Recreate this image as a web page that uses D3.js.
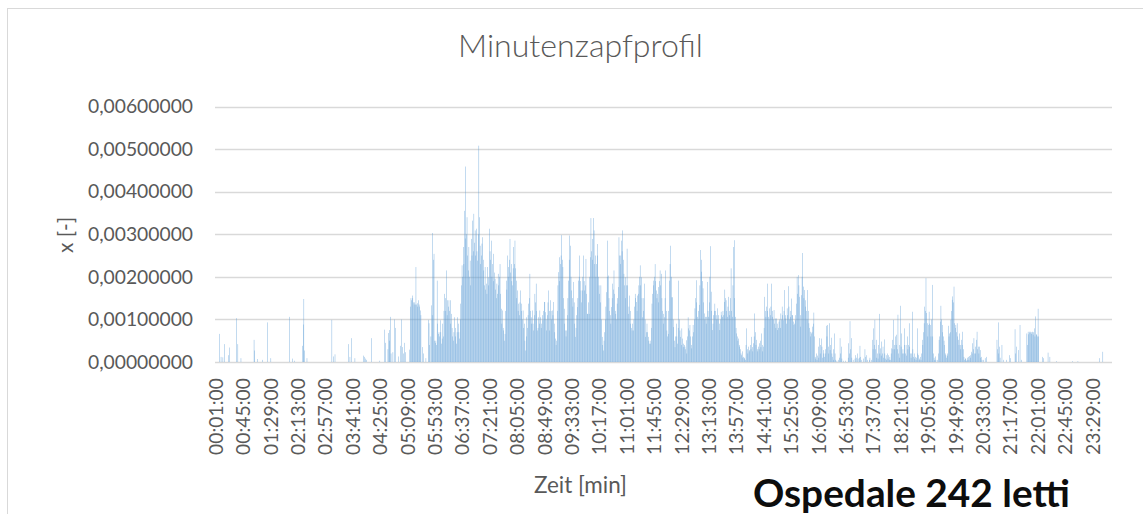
<!DOCTYPE html>
<html><head>
<meta charset="utf-8">
<script src="https://d3js.org/d3.v7.min.js"></script>
<style>
  body { margin: 0; background: #fff; }
  svg text { font-family: Lato, "Open Sans", sans-serif; fill: #595959; }
</style>
</head>
<body>
<svg id="chart" width="1143" height="514"></svg>
<script>
// share per minute, in units of 1e-5, one array per hour (minute 00:01 first)
const h00 = [0,0,0,0,0,0,0,66,0,12, 0,0,11,0,0,42,0,0,0,0, 0,16,0,34,0,0,0,0,0,0,
             0,0,0,0,103,0,42,0,0,0, 0,9,0,0,0,0,0,0,0,0, 0,0,0,0,0,0,0,0,0,0];
const h01 = [0,0,52,27,0,0,0,0,7,0, 0,0,0,0,0,0,5,0,0,0, 0,0,0,0,93,0,0,0,0,9,
             0,0,0,0,0,0,0,0,0,0, 0,0,0,0,0,0,0,0,0,0, 0,0,0,0,0,0,0,0,0,106];
const h02 = [0,0,0,0,8,0,0,3,0,0, 0,0,0,0,0,0,0,0,0,0, 38,88,148,27,0,0,0,9,0,0,
             0,0,0,0,0,0,0,0,0,0, 0,0,0,0,0,0,0,0,0,0, 0,0,0,0,0,0,0,0,0,0];
const h03 = [0,0,0,0,0,0,0,99,0,0, 13,0,18,0,0,0,0,0,0,0, 0,0,0,0,0,0,0,0,0,0,
             0,0,0,0,42,0,12,0,0,56, 0,0,0,0,9,0,0,0,0,0, 0,0,0,0,0,0,0,0,15,12];
const h04 = [0,8,0,5,0,0,0,0,0,0, 0,56,0,0,0,0,0,0,0,0, 0,0,0,0,3,0,0,0,0,0,
             0,0,76,45,0,0,0,30,68,50, 75,106,20,0,0,23,0,0,100,80, 0,0,0,0,13,0,0,38,0,100];
const h05 = [35,0,20,0,45,23,0,0,0,0, 0,0,29,130,150,145,156,150,140,135,
             140,135,223,135,130,138,145,135,130,121, 110,0,0,35,20,0,0,0,9,0,
             0,0,99,91,40,0,60,133,110,303, 240,254,50,45,50,40,191,90,66,70];
const h06 = [60,98,70,43,55,90,60,120,160,150, 120,215,110,145,130,145,120,145,90,113,
             80,60,50,70,105,80,60,43,70,105, 90,70,55,100,137,180,227,200,270,230,
             355,290,459,300,340,250,215,270,200,238, 180,289,250,332,260,348,280,309,250,313];
const h07 = [260,238,300,508,340,273,230,250,278,293, 240,215,180,223,170,184,160,223,180,199,
             313,260,240,285,200,230,190,254,210,195, 170,150,184,160,207,180,200,230,160,125,
             90,121,80,74,50,66,120,191,170,250, 200,223,240,289,210,230,190,180,220,270];
const h08 = [230,285,220,191,150,168,120,137,110,140, 168,120,137,100,121,80,90,50,27,60,
             105,80,110,137,150,207,120,105,90,121, 90,74,110,160,140,184,120,74,80,105,
             90,121,105,80,90,110,98,120,141,141, 117,100,74,110,140,168,120,74,145,120];
const h09 = [100,121,110,141,90,70,55,40,50,120, 180,211,190,246,230,250,298,240,223,150,
             125,90,74,60,74,110,150,191,240,297, 273,200,168,150,130,188,140,90,59,80,
             110,129,150,191,200,250,190,168,140,168, 200,250,190,168,180,242,160,113,113,140];
const h10 = [113,200,246,338,260,289,240,338,309,230, 250,200,230,250,277,200,180,160,140,180,
             100,59,40,27,50,70,100,130,164,200, 285,203,150,120,110,90,129,150,184,170,
             215,160,120,113,100,137,150,176,293,250, 230,250,285,260,309,240,207,180,150,199];
const h11 = [180,266,180,113,130,156,120,90,80,74, 90,74,100,130,160,150,141,120,156,160,
             180,200,227,180,199,150,105,120,150,184, 100,59,70,90,70,59,50,43,50,43,
             80,137,160,180,191,200,230,190,168,150, 160,140,176,190,215,180,207,150,120,113];
const h12 = [90,105,150,215,120,74,60,66,120,191, 230,273,200,152,152,100,82,50,35,60,
             90,60,43,80,191,100,74,59,40,79, 55,35,43,40,36,30,51,20,60,105,
             79,74,87,60,40,32,60,87,70,100, 126,150,192,140,106,100,120,134,180,263];
const h13 = [240,212,190,173,140,114,100,106,90,106, 188,120,106,140,200,272,165,120,75,90,
             110,120,137,120,110,100,126,100,110,90, 75,100,118,110,106,120,110,141,170,150,
             145,120,106,130,153,120,110,150,220,120, 106,180,270,286,150,106,80,67,60,50];
const h14 = [55,40,36,30,20,16,25,10,12,8, 10,5,40,79,30,20,36,25,28,40,
             30,59,35,25,44,60,114,70,40,52, 30,25,36,30,44,50,35,67,40,25,
             36,80,153,120,106,130,184,120,106,100, 126,110,130,184,120,106,100,122,90,102];
const h15 = [80,102,90,75,80,95,100,80,114,100, 130,110,98,120,169,110,102,90,126,110,
             178,130,100,106,120,149,110,110,95,87, 90,98,110,137,200,160,204,180,153,110,
             83,157,200,256,177,150,169,130,145,120, 100,169,120,91,80,71,60,67,70,83];
const h16 = [90,116,60,12,8,20,5,15,36,10, 56,20,40,55,36,10,28,20,12,20,
             30,85,60,87,36,20,91,28,40,57, 20,12,5,30,67,20,5,0,3,0,
             5,0,10,56,20,36,8,0,3,0, 0,0,3,0,0,0,10,44,20,96];
const h17 = [30,56,10,0,5,0,0,8,16,10, 0,20,8,0,10,38,12,0,5,0,
             0,8,0,30,12,0,16,5,0,0, 5,10,0,0,5,52,30,79,40,99,
             30,52,10,20,8,40,113,20,32,15, 48,20,36,10,53,20,8,16,5,20];
const h18 = [8,16,5,12,5,20,32,52,30,99, 40,30,60,40,64,30,111,20,10,40,
             132,36,67,20,30,20,40,79,20,40, 15,60,30,40,91,36,20,10,20,118,
             30,12,20,8,12,5,10,79,20,16, 5,8,12,5,20,52,40,70,91,130];
const h19 = [120,197,115,91,60,87,118,90,87,60, 100,181,60,20,10,5,13,5,0,5,
             0,20,52,60,95,132,100,87,70,60, 50,40,20,16,10,15,20,85,60,67,
             70,99,120,146,154,140,177,91,80,87, 70,91,60,52,40,67,40,30,52,40];
const h20 = [71,30,12,5,8,8,3,5,10,12, 5,14,16,10,24,20,44,30,56,20,
             36,20,52,71,30,36,20,36,28,10, 12,5,0,5,0,0,9,0,12,0,
             0,0,0,0,0,0,0,0,0,0, 0,0,0,0,0,52,30,93,20,36];
const h21 = [10,0,0,40,0,5,0,0,0,0, 5,0,0,0,0,16,0,9,0,0,
             0,0,0,0,77,20,36,0,0,0, 28,0,87,0,5,0,0,0,0,0,
             0,0,0,67,40,71,65,71,68,71, 66,70,71,64,70,79,60,107,65,64];
const h22 = [60,125,60,0,0,0,0,0,12,0, 9,0,0,0,0,0,0,22,0,0,
             12,0,0,0,0,0,0,0,0,0, 0,2,0,0,0,0,0,0,0,0,
             0,0,0,0,0,0,0,0,0,0, 0,0,0,0,0,0,2,0,0,0];
const h23 = [0,0,0,0,0,2,0,0,0,0, 0,0,0,0,0,0,0,0,0,0,
             0,0,0,0,0,0,0,0,0,0, 0,0,0,0,0,0,0,0,0,0,
             9,0,0,0,0,24,0,0,0,0, 0,0,0,0,0,0,0,0,0,0];
const valueUnit = 1e-5;

const yTicks = [0, 0.001, 0.002, 0.003, 0.004, 0.005, 0.006];
const labelEvery = 44;   // every 44th minute gets a label
const chartTitle = "Minutenzapfprofil";
const xTitle = "Zeit [min]";
const yTitle = "x [-]";
const note = "Ospedale 242 letti";

const values = [].concat(h00,h01,h02,h03,h04,h05,h06,h07,h08,h09,h10,h11,
                         h12,h13,h14,h15,h16,h17,h18,h19,h20,h21,h22,h23)
                 .map(v => v * valueUnit);
const minutes = d3.range(1, values.length + 1);
const pad2 = n => String(n).padStart(2, "0");
const timeLabel = m => pad2(Math.floor(m / 60)) + ":" + pad2(m % 60) + ":00";

const de = d3.formatLocale({decimal: ",", thousands: ".", grouping: [3], currency: ["", " €"]});
const yFmt = de.format(".8f");

const svg = d3.select("svg#chart");

// outer chart frame (runs past the right and bottom edge)
svg.append("rect")
   .attr("x", 7.5).attr("y", 8.5)
   .attr("width", 1160).attr("height", 530)
   .style("fill", "none")
   .style("stroke", "#d9d9d9");

const plotLeft = 215, plotRight = 1112, plotBottom = 362, plotTop = 106.5;

let x = d3.scaleBand()
          .domain(minutes)
          .range([plotLeft, plotRight])
          .padding(0.4);

let y = d3.scaleLinear()
          .domain([0, 0.006])
          .range([plotBottom, plotTop]);

// fit a font size so that the text has a given length
function fitFont(sel, target) {
  sel.style("font-size", "100px");
  const w = sel.node().getComputedTextLength();
  const size = 100 * target / w;
  sel.style("font-size", size + "px");
  return size;
}

// gridlines
yTicks.forEach(t => {
  svg.append("line")
     .attr("x1", plotLeft).attr("x2", plotRight)
     .attr("y1", Math.round(y(t)) + 0.5).attr("y2", Math.round(y(t)) + 0.5)
     .style("stroke", "#d9d9d9")
     .style("stroke-width", 1.3);
});

// bars
svg.append("g")
   .selectAll("rect")
   .data(values)
   .join("rect")
   .attr("x", (d, i) => x(minutes[i]))
   .attr("width", x.bandwidth())
   .attr("y", d => y(d))
   .attr("height", d => y(0) - y(d))
   .style("fill", "#5b9bd5");

// y axis labels
let yAxis = svg.append("g")
   .attr("transform", `translate(${plotLeft},0)`)
   .call(d3.axisLeft(y).tickValues(yTicks).tickFormat(yFmt).tickSize(0).tickPadding(22));
yAxis.select(".domain").remove();
let ySize = fitFont(yAxis.select("text"), 105);
yAxis.selectAll("text")
     .style("font-size", ySize + "px")
     .style("font-family", "Lato, sans-serif")
     .attr("fill", "#595959");

// x axis labels
let xAxis = svg.append("g")
   .attr("transform", `translate(0,${plotBottom})`)
   .call(d3.axisBottom(x)
           .tickValues(minutes.filter((m, i) => i % labelEvery === 0))
           .tickFormat(timeLabel)
           .tickSize(0));
xAxis.select(".domain").remove();
xAxis.selectAll("text")
     .attr("transform", "rotate(-90)")
     .attr("x", -16)
     .attr("y", 0)
     .attr("dy", "0.36em")
     .style("text-anchor", "end")
     .style("font-family", "Lato, sans-serif")
     .attr("fill", "#595959");
let xSize = fitFont(xAxis.select("text"), 77);
xAxis.selectAll("text").style("font-size", xSize + "px");

// titles
let t1 = svg.append("text")
   .text(chartTitle)
   .attr("x", 580.5).attr("y", 57)
   .style("text-anchor", "middle")
   .style("font-weight", 300);
fitFont(t1, 245);

let t2 = svg.append("text")
   .text(xTitle)
   .attr("x", 580.5).attr("y", 493)
   .style("text-anchor", "middle");
fitFont(t2, 93);

let t3 = svg.append("text")
   .text(yTitle)
   .attr("transform", "translate(66,235) rotate(-90)")
   .attr("dy", "0.36em")
   .style("text-anchor", "middle");
fitFont(t3, 36);

let t4 = svg.append("text")
   .text(note)
   .attr("x", 753).attr("y", 507)
   .style("font-weight", "bold")
   .style("fill", "#0d0d0d");
fitFont(t4, 317);
</script>
</body>
</html>
